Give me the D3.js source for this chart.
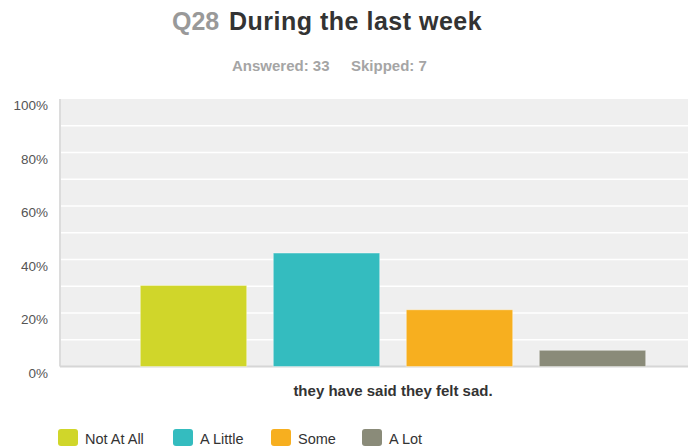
<!DOCTYPE html>
<html>
<head>
<meta charset="utf-8">
<script src="https://cdn.jsdelivr.net/npm/d3@7"></script>
<style>
    body { margin: 0; background: #fff; }
    svg { display: block; font-family: "Liberation Sans", Arial, sans-serif; }
</style>
</head>
<body>
<div id="chart"></div>
<script>
const categories = ["Not At All", "A Little", "Some", "A Lot"]
const values = [30.30, 42.42, 21.21, 6.06]
const colors = ["#d0d62a", "#34bcbf", "#f7af1f", "#8a8b79"]
const yTicks = [0, 20, 40, 60, 80, 100]
const gridTicks = [10, 20, 30, 40, 50, 60, 70, 80, 90]

const width = 689
const height = 448

const svg = d3.select("#chart")
    .append("svg")
    .attr("width", width)
    .attr("height", height)

// title: question number in grey, then the question
svg.append("text")
    .attr("x", 172)
    .attr("y", 30)
    .attr("fill", "#999")
    .style("font-size", "25px")
    .style("font-weight", "bold")
    .text("Q28")
svg.append("text")
    .attr("x", 229)
    .attr("y", 30)
    .attr("fill", "#333")
    .style("font-size", "25px")
    .style("font-weight", "bold")
    .style("letter-spacing", "0.5px")
    .text("During the last week")

svg.append("text")
    .attr("x", 232)
    .attr("y", 71)
    .attr("fill", "#a5a5a5")
    .style("font-size", "15px")
    .style("font-weight", "bold")
    .text("Answered: 33")
svg.append("text")
    .attr("x", 351)
    .attr("y", 71)
    .attr("fill", "#a5a5a5")
    .style("font-size", "15px")
    .style("font-weight", "bold")
    .text("Skipped: 7")

// plot area
const plot = { left: 60, right: 688, top: 99, bottom: 366.5 }

const y = d3.scaleLinear()
    .domain([0, 100])
    .range([plot.bottom, plot.top])

const x = d3.scaleBand()
    .domain(categories)
    .range([127, 659])
    .paddingInner(0.2)
    .paddingOuter(0.1)

svg.append("rect")
    .attr("x", plot.left)
    .attr("y", plot.top)
    .attr("width", plot.right - plot.left)
    .attr("height", plot.bottom - plot.top)
    .attr("fill", "#efefef")

// white gridlines
svg.append("g")
    .selectAll("line")
    .data(gridTicks)
    .enter().append("line")
    .attr("x1", plot.left)
    .attr("x2", plot.right)
    .attr("y1", d => y(d))
    .attr("y2", d => y(d))
    .attr("stroke", "#fff")
    .attr("stroke-width", 1.5)

// left and bottom axis lines
svg.append("line")
    .attr("x1", plot.left).attr("x2", plot.left)
    .attr("y1", plot.top).attr("y2", plot.bottom)
    .attr("stroke", "#dcdcdc")
    .attr("stroke-width", 2)
svg.append("line")
    .attr("x1", plot.left).attr("x2", plot.right)
    .attr("y1", plot.bottom).attr("y2", plot.bottom)
    .attr("stroke", "#d6d6d6")
    .attr("stroke-width", 2)

// y axis labels
const yAxis = d3.axisLeft(y)
    .tickValues(yTicks)
    .tickFormat(d => d + "%")
    .tickSize(0)
    .tickPadding(12)
const yg = svg.append("g")
    .attr("transform", `translate(${plot.left},0)`)
    .call(yAxis)
yg.select(".domain").remove()
yg.selectAll("text")
    .attr("dy", "0.78em")
    .attr("fill", "#555")
    .style("font-size", "13.5px")
    .style("font-family", "Liberation Sans, Arial, sans-serif")

// bars
svg.append("g")
    .selectAll("rect")
    .data(values)
    .enter().append("rect")
    .attr("x", (d, i) => x(categories[i]))
    .attr("y", d => y(d))
    .attr("width", x.bandwidth())
    .attr("height", d => plot.bottom - y(d))
    .attr("fill", (d, i) => colors[i])
    .attr("stroke", "rgba(255,255,255,0.4)")
    .attr("stroke-width", 1)

// category label
svg.append("text")
    .attr("x", (127 + 659) / 2)
    .attr("y", 396)
    .attr("text-anchor", "middle")
    .attr("fill", "#333")
    .style("font-size", "15px")
    .style("font-weight", "bold")
    .text("they have said they felt sad.")

// legend
const legendX = [58, 173, 271, 362]
const legend = svg.append("g")
    .selectAll("g")
    .data(categories)
    .enter().append("g")
    .attr("transform", (d, i) => `translate(${legendX[i]},429)`)

legend.append("rect")
    .attr("width", 20)
    .attr("height", 17)
    .attr("rx", 3)
    .attr("fill", (d, i) => colors[i])

legend.append("text")
    .attr("x", 27)
    .attr("y", 14.5)
    .attr("fill", "#333")
    .style("font-size", "14.5px")
    .text(d => d)
</script>
</body>
</html>
